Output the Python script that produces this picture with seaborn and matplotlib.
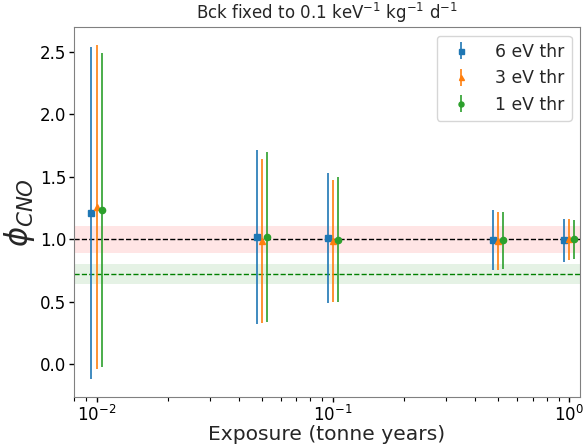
import seaborn as sns
import matplotlib.pyplot as plt
import matplotlib.ticker as mticker
import numpy as np

sns.set_style('ticks', rc={'axes.edgecolor': 'gray',
                           'xtick.color': 'k', 'ytick.color': 'k'})
plt.rcParams['font.family'] = ['DejaVu Sans']

exposure = np.array([0.01, 0.05, 0.1, 0.5, 1.0])
labels = ['6 eV thr', '3 eV thr', '1 eV thr']
markers = ['s', '^', 'o']
shifts = [0.95, 1.0, 1.05]

phi_6 = [1.21, 1.018, 1.01, 0.997, 0.99]
err_6 = [1.33, 0.70, 0.52, 0.24, 0.17]
phi_3 = [1.256, 0.986, 0.986, 0.986, 1.0]
err_3 = [1.30, 0.66, 0.49, 0.23, 0.165]
phi_1 = [1.232, 1.018, 0.997, 0.99, 1.0]
err_1 = [1.26, 0.68, 0.50, 0.225, 0.155]

true_val, true_err = 1.0, 0.11
other_val, other_err = 0.718, 0.08

colors = sns.color_palette('tab10')

fig, ax = plt.subplots(figsize=(5.86, 4.45), dpi=100)
fig.subplots_adjust(left=0.126, right=0.99, top=0.939, bottom=0.108)

ax.axhspan(true_val - true_err, true_val + true_err, color='red', alpha=0.1, lw=0)
ax.axhline(true_val, color='k', ls='--', lw=1)
ax.axhspan(other_val - other_err, other_val + other_err, color='green', alpha=0.1, lw=0)
ax.axhline(other_val, color='green', ls='--', lw=1)

for i, (phi, err) in enumerate([(phi_6, err_6), (phi_3, err_3), (phi_1, err_1)]):
    ax.errorbar(exposure * shifts[i], phi, yerr=err, fmt=markers[i], color=colors[i],
                ms=4.5, lw=1.2, label=labels[i])

ax.set_xscale('log')
ax.xaxis.set_minor_locator(mticker.LogLocator(base=10, subs=np.arange(2, 10), numticks=12))
ax.xaxis.set_minor_formatter(mticker.NullFormatter())
ax.set_xlim(0.008, 1.11)
ax.set_ylim(-0.264, 2.70)
ax.set_xlabel('Exposure (tonne years)', fontsize=14.6, labelpad=0)
ax.set_ylabel(r'$\phi_{CNO}$', fontsize=22, labelpad=2)
ax.set_title(r'Bck fixed to 0.1 keV$^{-1}$ kg$^{-1}$ d$^{-1}$', fontsize=12)
ax.tick_params(which='major', labelsize=12, length=3.5, width=1, pad=2)
ax.tick_params(axis='x', which='minor', bottom=True, length=3, width=0.8, color='k')
ax.legend(fontsize=12.4, loc='upper right', handletextpad=1.0, markerscale=0.8)

plt.savefig('out.png')
